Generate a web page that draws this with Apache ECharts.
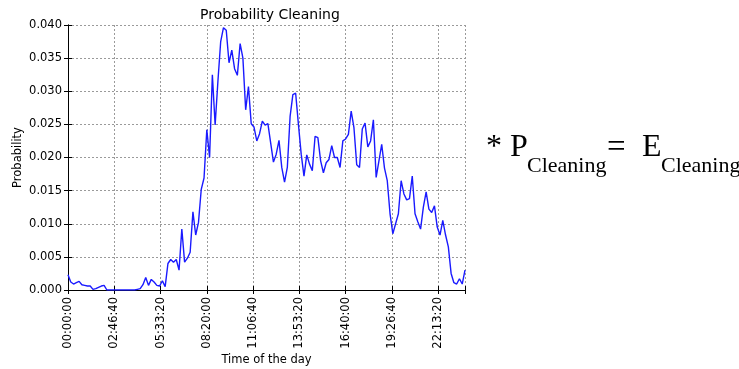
<!DOCTYPE html>
<html>
<head>
<meta charset="utf-8">
<script src="https://cdn.jsdelivr.net/npm/echarts@6/dist/echarts.min.js"></script>
<style>html,body{margin:0;padding:0;background:#fff;}#c{width:739px;height:369px;}</style>
</head>
<body>
<div id="c"></div>
<script>
// 10-minute bins over the day (index * 600 s)
const stepSeconds = 600;
const probability = [
  0.0023,0.0012,0.0009,0.0011,0.0013,0.0008,0.0007,0.0006,0.0006,0.0001,
  0.0002,0.0004,0.0006,0.0007,0,0,0,0,0,0,
  0,0,0,0,0,0.0001,0.0002,0.0008,0.0019,0.0007,
  0.0016,0.0012,0.0007,0.0006,0.0014,0.0005,0.0040,0.0046,0.0042,0.0046,
  0.0030,0.0092,0.0042,0.0048,0.0057,0.0118,0.0083,0.0102,0.0152,0.0169,
  0.0242,0.0200,0.0325,0.0249,0.0315,0.0375,0.0396,0.0392,0.0343,0.0362,
  0.0334,0.0324,0.0372,0.0350,0.0272,0.0307,0.0251,0.0246,0.0225,0.0236,
  0.0255,0.0249,0.0251,0.0222,0.0193,0.0205,0.0226,0.0185,0.0163,0.0185,
  0.0262,0.0295,0.0297,0.0250,0.0205,0.0172,0.0204,0.0190,0.0180,0.0232,
  0.0230,0.0195,0.0177,0.0192,0.0197,0.0218,0.0200,0.0200,0.0185,0.0225,
  0.0228,0.0235,0.0270,0.0245,0.0189,0.0185,0.0243,0.0252,0.0216,0.0225,
  0.0257,0.0170,0.0195,0.0220,0.0184,0.0165,0.0115,0.0085,0.0100,0.0115,
  0.0165,0.0145,0.0136,0.0138,0.0172,0.0115,0.0103,0.0092,0.0125,0.0148,
  0.0122,0.0117,0.0127,0.0095,0.0083,0.0105,0.0083,0.0065,0.0025,0.0011,
  0.0009,0.0017,0.0009,0.0030
];
const xTickInterval = 10000; // seconds: 00:00:00, 02:46:40, ...
const yTickInterval = 0.005;
const titleText = 'Probability Cleaning';
const xName = 'Time of the day';
const yName = 'Probability';

const seriesData = probability.map((v, i) => [i * stepSeconds, v]);
const xMax = (probability.length - 1) * stepSeconds;

function hms(s) {
  const h = Math.floor(s / 3600), m = Math.floor((s % 3600) / 60), sec = Math.round(s % 60);
  const p = n => String(n).padStart(2, '0');
  return p(h) + ':' + p(m) + ':' + p(sec);
}

const font = 'DejaVu Sans';
const serif = 'Liberation Serif';
const gridLine = { show: true, lineStyle: { color: '#9a9a9a', type: [2, 2], width: 1 } };

const chart = echarts.init(document.getElementById('c'), null, { renderer: 'canvas' });
chart.setOption({
  animation: false,
  backgroundColor: '#fff',
  title: {
    text: titleText, left: 195, top: 3,
    textStyle: { fontFamily: font, fontSize: 14, fontWeight: 'normal', color: '#000' }
  },
  grid: { left: 68, right: 274, top: 25, bottom: 79, show: false, containLabel: false, outerBoundsMode: 'none' },
  xAxis: [{
    type: 'value', min: 0, max: xMax, interval: xTickInterval,
    name: xName, nameLocation: 'middle', nameGap: 64, nameMoveOverlap: false,
    nameTextStyle: { fontFamily: font, fontSize: 11.5, color: '#000' },
    axisLine: { show: true, lineStyle: { color: '#000', width: 1 } },
    axisTick: { show: true, inside: true, length: 4, lineStyle: { color: '#000' } },
    axisLabel: {
      rotate: 90, margin: 7, fontFamily: font, fontSize: 11.5, color: '#000',
      formatter: v => (v % xTickInterval === 0 ? hms(v) : '')
    },
    splitLine: gridLine
  }, {
    type: 'value', min: 0, max: xMax, interval: xTickInterval, position: 'top',
    axisLine: { show: true, lineStyle: { color: '#000', width: 1 } },
    axisTick: { show: true, inside: true, length: 4, lineStyle: { color: '#000' } },
    axisLabel: { show: false }, splitLine: { show: false }
  }],
  yAxis: [{
    type: 'value', min: 0, max: 0.04, interval: yTickInterval,
    name: yName, nameLocation: 'middle', nameGap: 44, nameMoveOverlap: false,
    nameTextStyle: { fontFamily: font, fontSize: 11.5, color: '#000' },
    axisLine: { show: true, lineStyle: { color: '#000', width: 1 } },
    axisTick: { show: true, inside: true, length: 4, lineStyle: { color: '#000' } },
    axisLabel: { margin: 6, fontFamily: font, fontSize: 11.5, color: '#000', formatter: v => v.toFixed(3) },
    splitLine: gridLine
  }, {
    type: 'value', min: 0, max: 0.04, interval: yTickInterval, position: 'right',
    axisLine: { show: true, lineStyle: { color: '#000', width: 1 } },
    axisTick: { show: true, inside: true, length: 4, lineStyle: { color: '#000' } },
    axisLabel: { show: false }, splitLine: { show: false }
  }],
  series: [{
    type: 'line', xAxisIndex: 0, yAxisIndex: 0, data: seriesData,
    showSymbol: false, symbol: 'none',
    lineStyle: { color: '#1a1aff', width: 1.4 }
  }],
  graphic: [
    { type: 'text', x: 486, y: 148, style: { text: '* P', font: '32px "' + serif + '"', fill: '#000', verticalAlign: 'middle' } },
    { type: 'text', x: 527, y: 166, style: { text: 'Cleaning', font: '22px "' + serif + '"', fill: '#000', verticalAlign: 'middle' } },
    { type: 'text', x: 607, y: 148, style: { text: '=', font: '33px "' + serif + '"', fill: '#000', verticalAlign: 'middle' } },
    { type: 'text', x: 642, y: 148, style: { text: 'E', font: '32px "' + serif + '"', fill: '#000', verticalAlign: 'middle' } },
    { type: 'text', x: 661, y: 166, style: { text: 'Cleaning', font: '22px "' + serif + '"', fill: '#000', verticalAlign: 'middle' } }
  ]
});
</script>
</body>
</html>
